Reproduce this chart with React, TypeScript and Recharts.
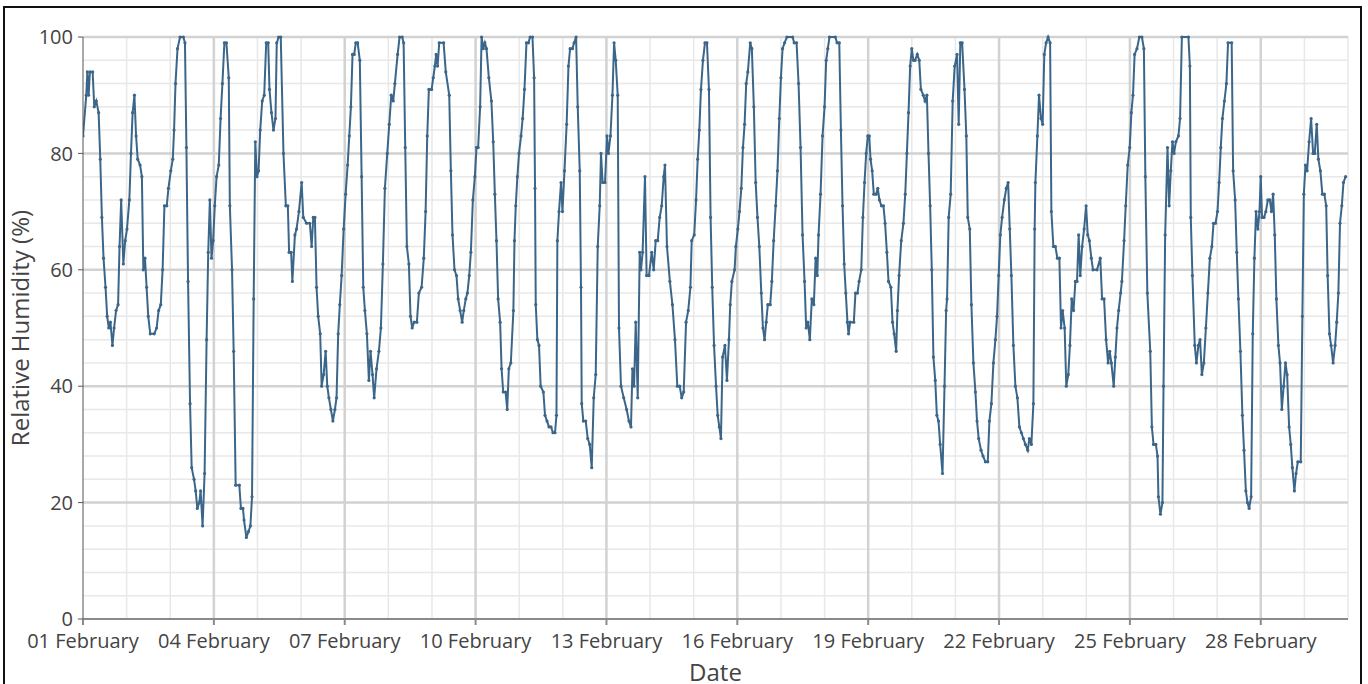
import { LineChart, Line, XAxis, YAxis, CartesianGrid } from 'recharts'

// hours since 01 February 00:00
const HOURS = [
  0, 1.8, 2.4, 3.1, 3.8, 5.3, 6.2, 7.3, 8.6, 9.5, 10.4, 11.3, 12.4, 13.3, 14.2, 15.1, 16.2, 17.1, 18.2, 19.3,
  20.1, 21, 22.2, 23.2, 24.2, 25.5, 26.4, 27.3, 28.3, 29.2, 30.1, 31.4, 32.4, 33.2, 34.1, 35, 35.9, 37, 39.2, 40.5,
  41.6, 42.8, 43.8, 44.8, 46.1, 47, 48.3, 49.4, 50.1, 50.9, 52, 53.4, 55.2, 56.1, 56.9, 57.8, 58.9, 59.8, 61.1, 62,
  62.9, 64, 64.7, 65.8, 66.9, 68, 68.9, 69.8, 70.7, 71.6, 72.5, 73.5, 74.7, 75.7, 76.7, 77.8, 78.9, 80.2, 80.8, 82,
  82.9, 84, 86, 86.9, 88, 88.6, 89.9, 91, 92.1, 93, 93.9, 94.8, 95.7, 96.6, 97.5, 98.6, 99.7, 100.8, 101.9, 102.6,
  103.7, 104.8, 105.9, 106.6, 107.7, 108.8, 110.3, 111.6, 112.7, 113.4, 114.5, 115.2,
  116.6, 117.5, 118.8, 120.3, 121.2, 123, 124.8, 125.8, 126.7, 127.6, 128.5, 129.4, 130.5, 131.3, 132.4, 133.5,
  134.4, 135.3, 136.4, 137.5, 138.6, 139.5, 140.4, 141.3, 142.3, 143.4, 144.5, 145.6, 146.5, 147.4, 148.3, 149.2,
  150.1, 151.1, 152.3, 153.3, 154.2, 155.1, 156.2, 157.3, 158.2, 159.3, 160.2, 161.5, 162.8, 163.9, 165, 166.1,
  167.4, 168.5, 169.6, 170.7, 171.6, 173.1, 174.2, 175.6, 176.4, 177.3, 178.2, 179.3, 180.2, 181.1, 182.2, 183.7,
  184.8, 186.3, 187.5, 188.5, 189.4, 190.3, 191.8, 192.7, 193.6, 194.3, 195.1, 196, 198.4, 199.6, 201.5, 202.4,
  203.3, 204.4, 205.5, 206.4, 207.5, 208.6, 209.5, 210.6, 211.5, 212.5, 213.4, 214.5, 215.6, 216.5, 217.4, 218.5,
  219.3, 220.2, 221.1, 222, 223.3, 224.7, 225.7, 226.6, 227.5, 228.4, 229.5, 230.3, 231.2, 232.5, 233.4, 234.3, 235.4,
  236.8, 237.4, 238.1, 239, 239.9, 241, 241.9, 242.9, 244, 245.1, 246, 247.3, 248.2, 248.7, 249.1, 250, 250.9,
  251.8, 253.3, 254.2, 255.3, 256.4, 257.5, 258.6, 259.7, 260.5, 261, 261.9, 263, 263.8, 264.9, 266.1, 267.1, 268,
  269.3, 270.2, 271.3, 272.2, 273.3, 274, 274.4, 275.3, 276.6, 277.7, 278.8, 279.9, 281, 282.1, 283.2, 284.3, 285,
  285.9, 287.2, 288.3, 289.1, 290.2, 291.3, 292.2, 293.1, 294.2, 294.9, 296, 297.5, 299.1, 300.4, 301.5, 302.3,
  303.2, 304.1, 305.2, 306.3, 307, 307.9, 309.2, 310.1, 311.4, 312.9, 314, 315.1, 316.2, 317.3, 318.4, 319.5, 320.2,
  321.3, 322.9, 324.3, 325.7, 327, 328.3, 329.4, 330.5, 331.8, 333, 334.2, 334.9, 336.3, 337.3, 338.2, 339.1, 340,
  341.1, 342.2, 343.3, 344.4, 345.3, 346.2, 347.2, 348.3, 349.2, 350.1, 351, 351.9, 353.2, 354.3, 355.4,
  356.1, 357, 358.5, 359.2, 360.3, 361.2, 362.2, 363.1, 364, 364.9, 365.8, 367.1, 368, 369.1, 370.1, 371.1, 372.1,
  373.2, 374.1, 375, 375.9, 376.8, 378.1, 379, 380, 381.1, 382.1, 383.1, 384, 384.9, 386, 387.3, 390.4, 391.3, 392.6,
  393.7, 394.8, 395.9, 397, 397.9, 398.8, 399.9, 401, 402.1, 403.1, 404, 404.7, 405.8, 406.9, 408, 408.9, 409.8,
  410.7, 413.9, 414.9, 416.1, 417, 417.9, 418.8, 419.7, 420.6, 421.2, 422.1, 424.1, 425, 426.1, 427, 428.2, 429.1,
  430, 430.9, 431.8, 432.6, 433.3, 434.2, 435.1, 436.4, 437.3, 438.2, 439.3, 440.4, 441.3, 442.3, 443.2, 444.5,
  445.4, 446.3, 447.4, 448.1, 449, 450.2, 451.4, 452.4, 453.3, 454.2, 455.1, 456, 456.9, 457.8, 459, 460.1, 461,
  462.3, 463.3, 464.3, 465.2, 466.1, 467, 467.9, 468.9, 469.8, 470.7, 471.6, 472.9, 474, 474.9,
  475.4, 476.3, 477.4, 478.5, 479.6, 480.9, 481.8, 482.7, 483.7, 485, 486, 486.8, 487.9, 488.8, 489.9, 491, 491.9,
  492.8, 494.1, 495.2, 496.5, 497.8, 498.7, 499.8, 500.9, 502, 502.9, 503.8, 504.7, 505.7, 506.9, 508, 509, 509.9,
  510.8, 511.9, 513, 514.1, 515.2, 516.3, 517.4, 518.5, 519.8, 520.7, 521.8, 522.9, 523.6, 524, 525.1, 526, 527.1,
  528, 528.9, 529.9, 531, 532.1, 532.8, 533.9, 535, 536.1, 537.2, 538.1, 539, 540.1, 541, 542.1, 543, 544, 545, 546,
  546.9, 547.8, 548.7, 549.7, 550.8, 551.9, 552.8, 553.7, 554.8, 555.7, 557.9, 559.7, 560.7, 561.8, 562.9, 564,
  564.9, 565.8, 567.1, 568, 568.9, 569.8, 570.9, 571.6, 572.8, 573.7, 574.8, 575.9, 576.8, 577.7, 578.6, 579.9,
  581.2, 582.6, 583.7, 584.5, 585.6,
  587.2, 588.1, 589, 590.3, 591.2, 591.7, 592.8, 593.9, 594.5, 595.4, 596.7, 597.6, 598.5, 599.4, 600.3, 601.3,
  602.7, 603.6, 604.6, 608.2, 609, 609.5, 610.4, 611.7, 612.6, 613.7, 614.6, 615.6, 616.7, 617.8, 618.9, 620, 621.1,
  622, 623.1, 624.2, 625.1, 626, 626.9, 628, 629.1, 630, 632, 632.8, 633.9, 634.8, 635.7, 636.8, 637.9, 638.8, 639.8,
  640.7, 641.6, 642.7, 643.6, 644.5, 645.4, 646.4, 647.3, 648, 648.7, 649.8, 650.8, 651.9, 653, 653.9, 654.8, 655.7,
  656.6, 657.7, 658.6, 659.6, 660.6, 661.6, 662.5, 663.6, 664.5, 665.4, 666.5, 667.4, 668.4, 670, 670.9, 671.7,
  672.6, 673.5, 674.6, 675.7, 676.8, 677.7, 678.8, 679.7, 680.8, 681.9, 683, 684, 684.8, 685.8, 686.7, 687.8, 688.9,
  689.8, 690.7, 691.6, 692.6, 693.5, 694.7,
]

// relative humidity (%) at those hours
const RH = [
  83, 90, 94, 90, 94, 94, 88, 89, 87, 79, 69, 62, 57, 52, 50, 51, 47, 50, 53, 54,
  64, 72, 61, 65, 67, 72, 80, 87, 90, 83, 79, 78, 76, 60, 62, 57, 52, 49, 49, 50,
  53, 54, 60, 71, 71, 74, 77, 79, 84, 92, 98, 100, 100, 99, 81, 58, 37, 26, 24, 22,
  19, 20, 22, 16, 25, 48, 63, 72, 62, 65, 71, 76, 78, 86, 92, 99, 99, 93, 71, 60,
  46, 23, 23, 19, 19, 17, 14, 15, 16, 21, 55, 82, 76, 77, 84, 89, 90, 99, 99, 91,
  87, 84, 86, 99, 100, 100, 80, 71, 71, 63, 63, 58,
  66, 67, 70, 75, 69, 68, 68, 64, 69, 69, 57, 52, 49, 40, 42, 46,
  40, 38, 36, 34, 36, 38, 49, 54, 59, 67, 73, 78, 83, 88, 97, 97,
  99, 99, 96, 76, 57, 53, 49, 41, 46, 42, 38, 43, 46, 50, 61, 74,
  80, 85, 90, 89, 92, 97, 100, 100, 99, 81, 64, 61, 52, 50, 51, 51,
  56, 57, 62, 70, 83, 91, 91, 93, 95, 97, 95, 99, 99, 94, 90, 77,
  66, 60, 59, 55, 53, 51, 53, 55, 56, 59, 63, 72, 76, 81, 81, 88,
  100, 98, 99, 98, 93, 89, 82, 73, 65, 55, 51, 43, 39, 39, 36, 43, 44,
  53, 65, 71, 76, 80, 83, 86, 91, 99, 99, 100, 100, 93, 74, 54, 48, 47,
  40, 39, 35, 34, 33, 33, 32, 32, 35, 65, 70, 75, 70, 77, 85, 95, 98,
  98, 99, 100, 88, 77, 57, 37, 34, 34, 31, 30, 26, 38, 42, 64, 71, 80,
  75, 75, 83, 80, 83, 90, 99, 96, 90, 50, 40, 38, 36, 34, 33, 43,
  40, 51, 38, 63, 60, 63, 76, 59, 59, 63, 60, 65, 65, 69, 71, 76, 78,
  64, 58, 54, 48, 40, 40, 38, 39, 51, 53, 57, 65, 66, 72, 79, 84, 91,
  96, 99, 99, 91, 69, 57, 47, 40, 35, 33, 31, 45, 47, 41, 48,
  54, 58, 60, 64, 67, 70, 74, 81, 85, 92, 94, 99, 98, 88, 75, 69, 64,
  56, 50, 48, 51, 54, 54, 58, 65, 71, 77, 86, 93, 98, 99, 100, 100, 99, 99,
  92, 81, 66, 58, 50, 51, 48, 55, 54, 62, 59, 66, 73, 83, 88, 96, 98,
  100, 100, 99, 99, 84, 71, 61, 56, 51, 49, 51, 51, 56, 56, 58, 60, 69,
  75, 80, 83, 83, 79, 77, 73, 73, 74, 72, 71, 71, 68, 63, 58, 57,
  51, 49, 46, 53, 59, 65, 68, 73, 80, 87, 95, 98, 96, 96, 97, 96, 91,
  90, 89, 90, 80, 71, 60, 45, 41, 35, 34, 30, 25, 40, 53,
  55, 69, 73, 89, 95, 97, 85, 99, 99, 91, 83, 69, 67, 54, 44, 39, 34,
  31, 29, 28, 27, 27, 34, 37, 44, 48, 52, 59, 66, 69, 72, 74, 75, 67,
  59, 47, 40, 38, 33, 32, 31, 30, 29, 31, 30, 37, 67, 75, 83, 90, 86,
  85, 97, 99, 100, 99, 70, 64, 64, 62, 62, 50, 53, 50, 40, 42, 47, 55, 53, 58,
  58, 66, 59, 64, 67, 71, 66, 65, 62, 60, 60, 62, 55, 55, 48, 44,
  46, 44, 40, 45, 50, 53, 56, 58, 65, 71, 78, 81, 87, 90, 97, 98,
  100, 100, 98, 76, 56,
  46, 33, 30, 30, 28, 21, 18, 20, 40, 66, 81, 71, 77, 82, 80, 82,
  83, 86, 100, 100, 95, 69, 59, 47, 44, 47, 48, 42, 44, 50, 56, 62, 64,
  68, 68, 70, 75, 81, 86, 89, 92, 99, 99, 77, 72, 63, 55, 46, 35, 29, 22,
  20, 19, 21, 49, 62, 70, 67, 70, 76, 69, 69, 70, 72, 72, 70, 73, 66,
  55, 47, 44, 36, 40, 44, 42, 33, 30, 26, 22, 25, 27, 27, 52, 73,
  78, 77, 82, 86, 80, 80, 85, 79, 77, 73, 73, 71, 59, 49, 47, 44, 47,
  51, 56, 68, 71, 75, 76,
]

const TICK_HOURS = [0, 72, 144, 216, 288, 360, 432, 504, 576, 648]
const TICK_LABELS = [
  '01 February', '04 February', '07 February', '10 February', '13 February',
  '16 February', '19 February', '22 February', '25 February', '28 February',
]
const Y_TICKS = [0, 20, 40, 60, 80, 100]

const data = HOURS.map((h, i) => ({ h, rh: RH[i] }))

// grid positions (days / every 2 %)
const dayLines = Array.from({ length: 30 }, (_, i) => i * 24)
const minorY = Array.from({ length: 51 }, (_, i) => i * 2)

const LINE = '#3b6689'
const TEXT = '#444'

export default function App() {
  return (
    <div style={{ position: 'absolute', left: 0, top: 0, width: 1368, height: 684, overflow: 'hidden', background: '#fff' }}>
      <div style={{
        position: 'absolute', left: 3, top: 6, width: 1359, height: 720,
        border: '2px solid #111', boxSizing: 'border-box',
      }} />
      <div style={{ position: 'absolute', left: 0, top: 0, fontFamily: '"Open Sans", sans-serif' }}>
        <LineChart width={1368} height={684} data={data} margin={{ top: 37, right: 20, bottom: 0, left: 0 }}>
          <CartesianGrid stroke="#e8e8e8" strokeWidth={1.5} horizontalValues={minorY} verticalValues={dayLines} />
          <CartesianGrid stroke="#d2d2d2" strokeWidth={2.5} horizontalValues={Y_TICKS.slice(1)} verticalValues={TICK_HOURS.slice(1)} />
          <XAxis
            dataKey="h" type="number" domain={[0, 696]} ticks={TICK_HOURS}
            tickFormatter={(v: number) => TICK_LABELS[TICK_HOURS.indexOf(v)]}
            height={65} stroke="#8a8a8a" strokeWidth={2} tickSize={6} tickMargin={9}
            tick={{ fill: TEXT, fontSize: 20 }}
            label={{ value: 'Date', position: 'insideBottom', offset: 3, fill: TEXT, fontSize: 24 }}
            allowDataOverflow
          />
          <YAxis
            type="number" domain={[0, 100]} ticks={Y_TICKS} width={83}
            stroke="#555" tickSize={5} tickMargin={5}
            tick={{ fill: TEXT, fontSize: 20 }}
            label={{
              value: 'Relative Humidity (%)', angle: -90, position: 'insideLeft', offset: 20,
              fill: TEXT, fontSize: 24, style: { textAnchor: 'middle' },
            }}
          />
          <Line
            type="linear" dataKey="rh" stroke={LINE} strokeWidth={2}
            dot={{ r: 1.6, fill: LINE, stroke: LINE, strokeWidth: 0 }}
            isAnimationActive={false}
          />
        </LineChart>
      </div>
    </div>
  )
}
